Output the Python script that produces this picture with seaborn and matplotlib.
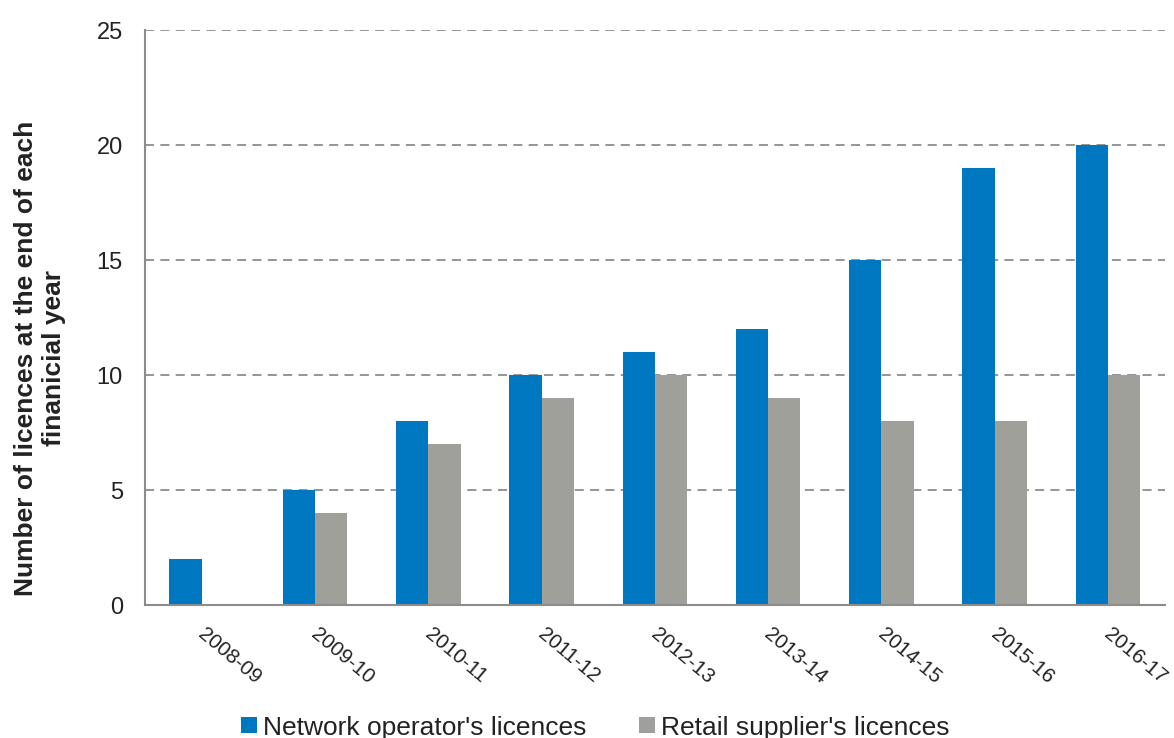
import pandas as pd
import matplotlib.pyplot as plt
import matplotlib.transforms as mtransforms
import seaborn as sns

# Chart data
years = ['2008-09', '2009-10', '2010-11', '2011-12', '2012-13',
         '2013-14', '2014-15', '2015-16', '2016-17']
network = [2, 5, 8, 10, 11, 12, 15, 19, 20]
retail = [0, 4, 7, 9, 10, 9, 8, 8, 10]
series_names = ["Network operator's licences", "Retail supplier's licences"]

df = pd.DataFrame({
    'Year': years * 2,
    'Licences': network + retail,
    'Type': [series_names[0]] * len(years) + [series_names[1]] * len(years),
})

sns.set_style("white")
plt.rcParams['font.family'] = ['Liberation Sans', 'DejaVu Sans']

fig = plt.figure(figsize=(11.74, 7.38), dpi=100)
ax = fig.add_axes([0.1235, 0.18, 0.8685, 0.779])

sns.barplot(data=df, x='Year', y='Licences', hue='Type',
            palette=['#0078C1', '#A0A09B'], width=0.57,
            saturation=1, linewidth=0, ax=ax, zorder=2)

ax.set_ylim(0, 25)
ax.set_yticks([0, 5, 10, 15, 20, 25])
ax.set_xlim(-0.5, len(years) - 0.5)
ax.yaxis.grid(True, linestyle=(0, (5, 3.5)), color='#8C8C8C', linewidth=1.3, zorder=0)
ax.set_axisbelow(True)

for s in ['top', 'right']:
    ax.spines[s].set_visible(False)
for s in ['left', 'bottom']:
    ax.spines[s].set_color('#8C8C8C')
    ax.spines[s].set_linewidth(1.5)

ax.tick_params(axis='both', length=0)
ax.tick_params(axis='y', labelsize=17, colors='#222222', pad=16)
ax.tick_params(axis='x', pad=14)
# nudge rotated x labels a few pixels right
shift = mtransforms.ScaledTranslation(5 / 100, 0, fig.dpi_scale_trans)
for lbl in ax.get_xticklabels():
    lbl.set_rotation(-40)
    lbl.set_ha('left')
    lbl.set_va('top')
    lbl.set_rotation_mode('anchor')
    lbl.set_fontsize(14.8)
    lbl.set_color('#222222')
    lbl.set_transform(lbl.get_transform() + shift)

ax.set_xlabel('')
ax.set_ylabel('Number of licences at the end of each\nfinanicial year',
              fontsize=19, fontweight='bold', color='#222222', labelpad=22)
ax.yaxis.label.set_y(0.43)

ax.legend(loc='lower center', bbox_to_anchor=(0.442, -0.275), ncol=2,
          frameon=False, fontsize=19, handlelength=0.58, handleheight=0.58,
          handletextpad=0.25, columnspacing=2.0, labelcolor='#222222')

plt.savefig('out.png', dpi=100)
